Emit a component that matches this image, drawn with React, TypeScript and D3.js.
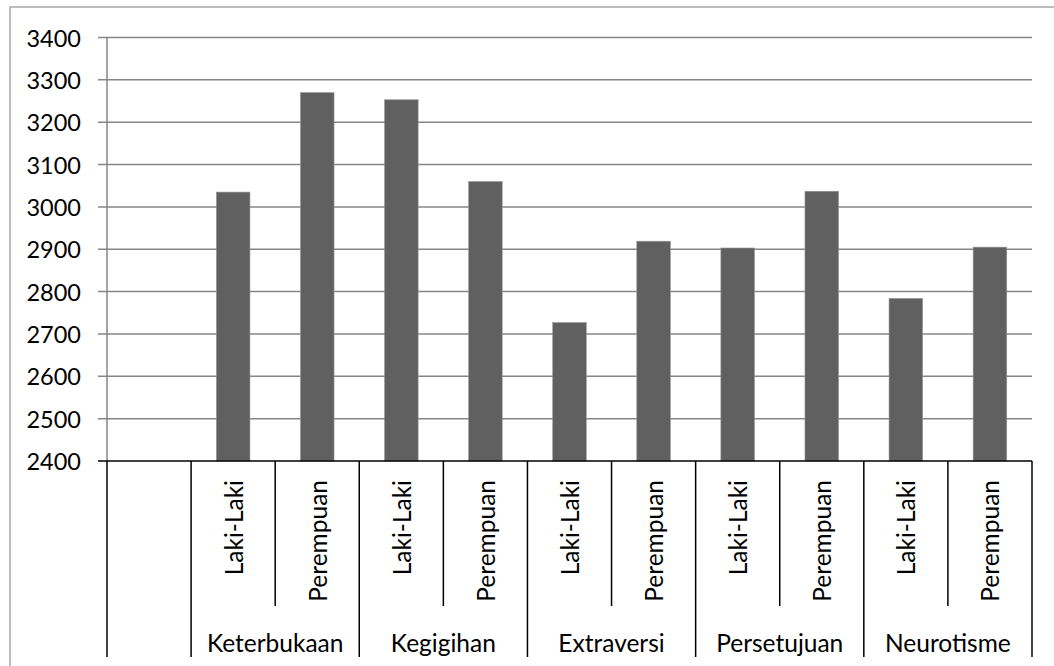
import React from "react";
import * as d3 from "d3";

// data
const groups = ["Keterbukaan", "Kegigihan", "Extraversi", "Persetujuan", "Neurotisme"];
const genders = ["Laki-Laki", "Perempuan"];
const lakiValues = [3035, 3253, 2727, 2903, 2784];
const perempuanValues = [3270, 3060, 2919, 3037, 2905];
const yTicks = [2400, 2500, 2600, 2700, 2800, 2900, 3000, 3100, 3200, 3300, 3400];

type cat = { key: string; group: string; sub: string; value: number | null };

const cats: cat[] = [{ key: "blank", group: "", sub: "", value: null }];
groups.forEach((g, i) => {
    cats.push({ key: `${g}-0`, group: g, sub: genders[0], value: lakiValues[i] });
    cats.push({ key: `${g}-1`, group: g, sub: genders[1], value: perempuanValues[i] });
});

const W = 1054;
const H = 666;
const FONT = "Lato, 'Open Sans', sans-serif";

export default function App() {
    const left = 107;
    const right = 1032;
    const top = 37.5;
    const bottom = 461;
    const subBottom = 606;
    const axisBottom = 657;

    const x = d3.scaleBand<string>().domain(cats.map((c) => c.key)).range([left, right]).padding(0);
    const y = d3.scaleLinear().domain([2400, 3400]).range([bottom, top]);
    const bw = x.bandwidth();
    const barW = bw * 0.4;

    // boundaries between categories: full height at group edges, short inside groups
    const bounds = cats.map((c, i) => {
        const xPos = x(c.key) ?? 0;
        const inner = i > 0 && c.sub === genders[1];
        return { xPos, inner };
    });
    bounds.push({ xPos: right, inner: false });

    return (
        <svg width={W} height={H} style={{ position: "absolute", left: 0, top: 0, background: "#fff" }}
             fontFamily={FONT}>
            <rect x={10} y={7} width={W + 20} height={H + 20} fill="#fff" stroke="#a6a6a6" strokeWidth={1.5}/>

            {/* gridlines with outside tick marks */}
            <g stroke="#868686" strokeWidth={1.5}>
                {yTicks.filter((t) => t !== 2400).map((t) => (
                    <line key={t} x1={left - 9} x2={right} y1={y(t)} y2={y(t)}/>
                ))}
                <line x1={left} x2={left} y1={top} y2={bottom}/>
            </g>

            <g fill="#606060" stroke="#9a9a9a" strokeWidth={0.6}>
                {cats.filter((c) => c.value !== null).map((c) => (
                    <rect key={c.key} x={(x(c.key) ?? 0) + (bw - barW) / 2} y={y(c.value as number)}
                          width={barW} height={bottom - y(c.value as number)}/>
                ))}
            </g>

            <g fontSize={23.5} fill="#000" textAnchor="end" dominantBaseline="central">
                {yTicks.map((t) => (
                    <text key={t} x={81} y={y(t)}>{t}</text>
                ))}
            </g>

            {/* category axis */}
            <g stroke="#000" strokeWidth={1.5}>
                <line x1={left - 9} x2={right} y1={bottom} y2={bottom}/>
                {bounds.map((b, i) => (
                    <line key={i} x1={b.xPos} x2={b.xPos} y1={bottom} y2={b.inner ? subBottom : axisBottom}/>
                ))}
            </g>

            <g fontSize={24.5} fill="#000">
                {cats.filter((c) => c.sub !== "").map((c) => {
                    const cx = (x(c.key) ?? 0) + bw / 2;
                    return (
                        <text key={c.key} transform={`translate(${cx},480) rotate(-90)`} textAnchor="end"
                              dominantBaseline="central">{c.sub}</text>
                    );
                })}
                {groups.map((g) => {
                    const x0 = x(`${g}-0`) ?? 0;
                    return (
                        <text key={g} x={x0 + bw} y={642} textAnchor="middle" dominantBaseline="central">{g}</text>
                    );
                })}
            </g>
        </svg>
    );
}
